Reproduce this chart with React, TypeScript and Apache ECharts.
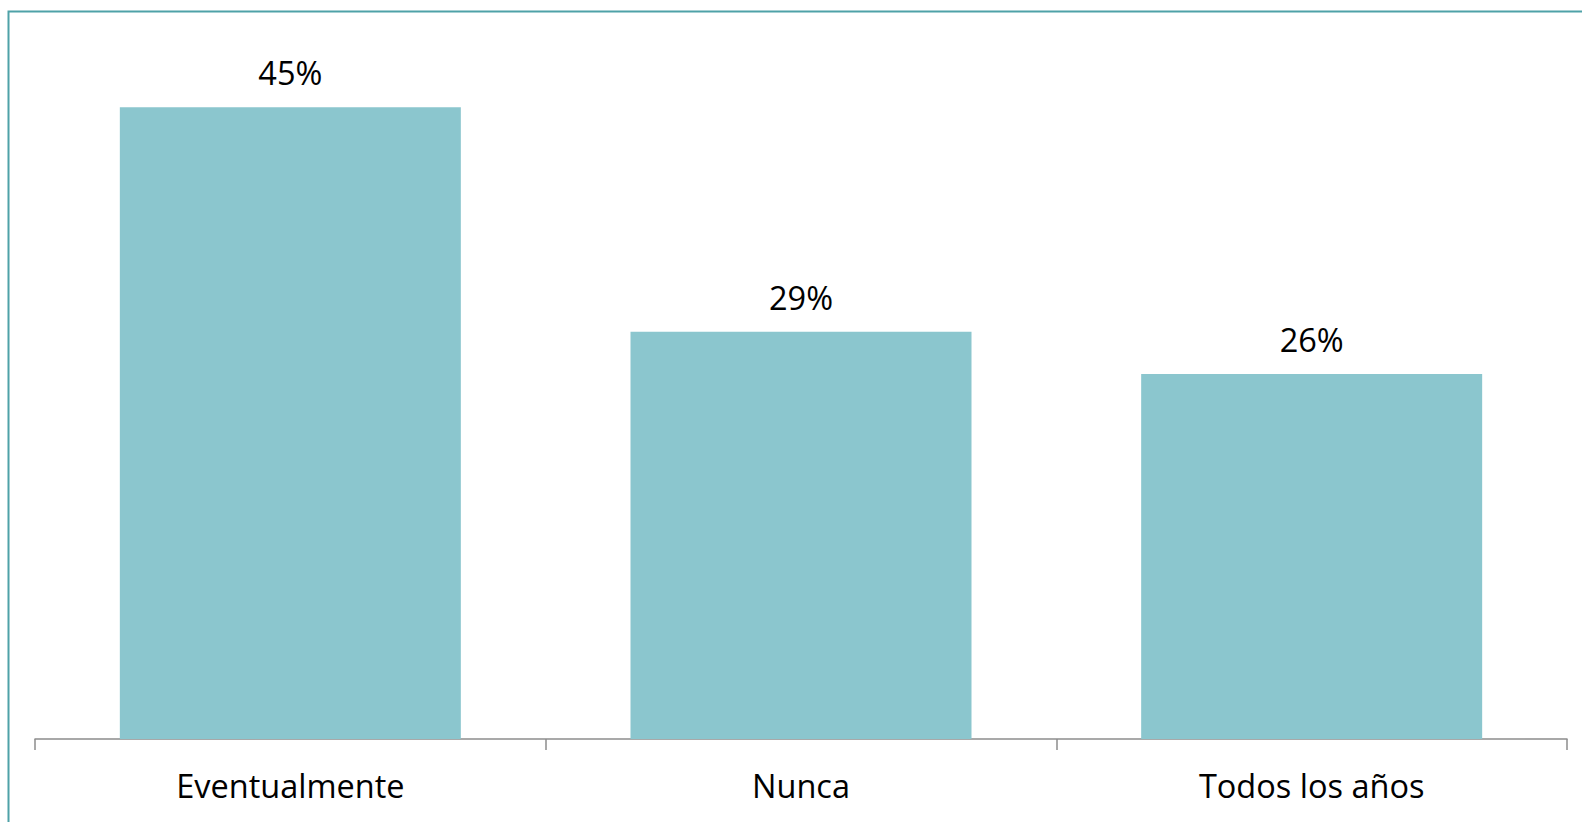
import React, { useEffect, useRef } from "react";
import * as echarts from "echarts";

const categories = ["Eventualmente", "Nunca", "Todos los años"];
const values = [45, 29, 26];

export default function App() {
  const ref = useRef<HTMLDivElement>(null);

  useEffect(() => {
    if (!ref.current) return;
    const chart = echarts.init(ref.current, null, { renderer: "svg" });
    chart.setOption({
      animation: false,
      backgroundColor: "#ffffff",
      graphic: [
        {
          type: "rect",
          left: 6,
          top: 9,
          shape: { width: 1600, height: 840 },
          style: { fill: "none", stroke: "#4FA2A8", lineWidth: 2 },
          silent: true,
        },
      ],
      grid: { left: 35, right: 15, top: 37, bottom: 83 },
      xAxis: {
        type: "category",
        data: categories,
        axisLine: { lineStyle: { color: "#8C8C8C", width: 1.5 } },
        axisTick: { show: true, length: 11, lineStyle: { color: "#8C8C8C", width: 1.5 } },
        axisLabel: {
          color: "#000000",
          fontFamily: "Open Sans",
          fontSize: 32.5,
          margin: 30,
        },
      },
      yAxis: {
        type: "value",
        min: 0,
        max: 50,
        show: false,
        splitLine: { show: false },
      },
      series: [
        {
          type: "bar",
          data: values,
          barWidth: 341,
          itemStyle: { color: "#8BC6CE" },
          label: {
            show: true,
            position: "top",
            distance: 18,
            formatter: "{c}%",
            color: "#000000",
            fontFamily: "Open Sans",
            fontSize: 32.5,
          },
        },
      ],
    });
    return () => chart.dispose();
  }, []);

  return (
    <div
      ref={ref}
      style={{ position: "fixed", left: 0, top: 0, width: 1582, height: 822 }}
    />
  );
}
